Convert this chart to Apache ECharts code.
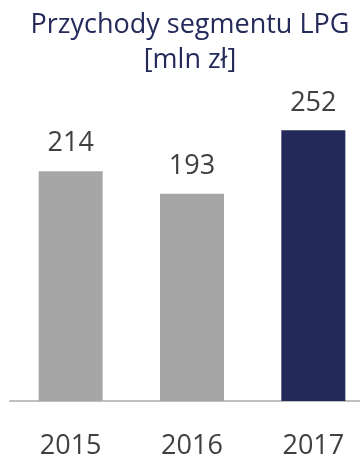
<!DOCTYPE html>
<html>
<head>
<meta charset="utf-8">
<script src="https://cdn.jsdelivr.net/npm/echarts@6/dist/echarts.min.js"></script>
<style>
html, body { margin: 0; padding: 0; background: #fff; }
#chart { width: 360px; height: 457px; }
</style>
</head>
<body>
<div id="chart"></div>
<script>
var years = ['2015', '2016', '2017'];
var revenue = [214, 193, 252];
var barColors = ['#A6A6A6', '#A6A6A6', '#232959'];

var navy = '#242A5A';
var textGray = '#404040';
var font = 'Open Sans';

var data = [];
for (var i = 0; i < revenue.length; i++) {
	data.push({
		value: revenue[i],
		itemStyle: { color: barColors[i] }
	});
}

var option = {
	animation: false,
	title: {
		text: 'Przychody segmentu LPG\n[mln zł]',
		left: 185,
		top: 3,
		textAlign: 'center',
		textStyle: {
			color: navy,
			fontFamily: font,
			fontSize: 27,
			fontWeight: 'normal',
			lineHeight: 35
		}
	},
	grid: {
		left: 10,
		width: 364,
		top: 111,
		bottom: 56,
		outerBoundsMode: 'none',
		containLabel: false
	},
	xAxis: {
		type: 'category',
		data: years,
		axisLine: { lineStyle: { color: '#BFBFBF', width: 2 } },
		axisTick: { show: false },
		axisLabel: {
			color: textGray,
			fontFamily: font,
			fontSize: 27,
			margin: 32
		}
	},
	yAxis: {
		type: 'value',
		min: 0,
		max: 270,
		show: false
	},
	series: [{
		type: 'bar',
		barWidth: 64,
		data: data,
		label: {
			show: true,
			position: 'top',
			distance: 14,
			color: textGray,
			fontFamily: font,
			fontSize: 27
		}
	}]
};

var chart = echarts.init(document.getElementById('chart'));
chart.setOption(option);
</script>
</body>
</html>
